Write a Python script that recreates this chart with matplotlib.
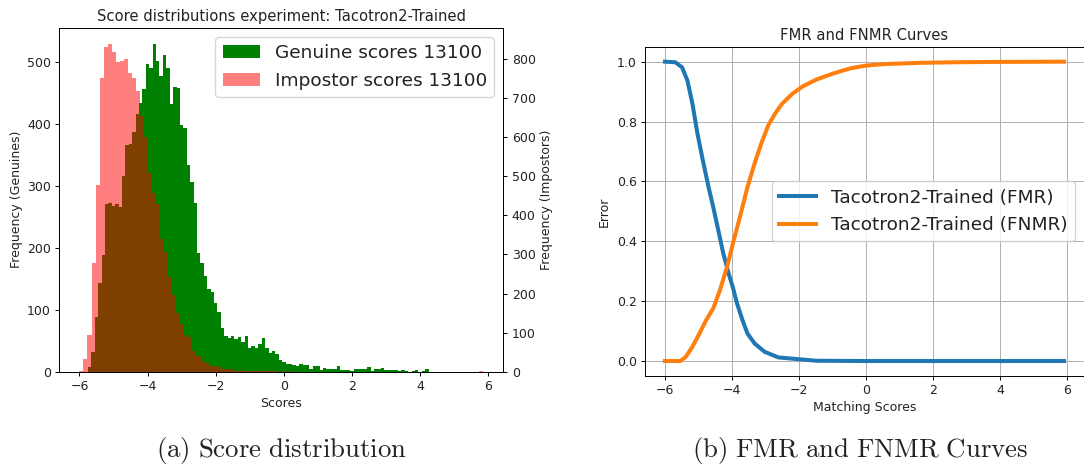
import numpy as np
import matplotlib
matplotlib.use('Agg')
import matplotlib.pyplot as plt

plt.rcParams['mathtext.fontset'] = 'cm'

# ---------------- data ----------------
gen_range = (-5.75, 4.25)
gen_counts = [8, 32, 88, 143, 189, 270, 272, 268, 270, 266,
              316, 366, 368, 387, 416, 434, 457, 497, 490, 529,
              502, 478, 511, 491, 433, 460, 458, 398, 393, 334,
              307, 272, 192, 175, 154, 133, 129, 111, 96, 71,
              57, 55, 58, 52, 56, 48, 57, 38, 42, 39,
              45, 55, 39, 30, 34, 29, 19, 16, 12, 12,
              11, 10, 13, 11, 11, 5, 10, 9, 3, 6,
              5, 4, 5, 9, 3, 2, 3, 1, 5, 4,
              4, 4, 7, 1, 4, 4, 6, 3, 3, 2,
              2, 1, 2, 1, 0, 1, 2, 0, 1, 4]
imp_range = (-6.0, 5.85)
imp_counts = [3, 33, 95, 277, 478, 752, 830, 838, 817, 791,
              795, 801, 765, 750, 718, 655, 601, 508, 457, 429,
              339, 307, 241, 195, 150, 123, 93, 90, 54, 41,
              28, 21, 15, 14, 12, 6, 8, 7, 3, 4,
              3, 2, 3, 2, 1, 2, 1, 1, 2, 0,
              1, 0, 1, 0, 0, 0, 0, 0, 0, 0,
              0, 0, 0, 0, 0, 0, 0, 0, 0, 0,
              0, 0, 0, 0, 0, 0, 0, 0, 0, 0,
              0, 0, 0, 0, 0, 0, 0, 0, 0, 0,
              0, 0, 0, 0, 0, 0, 0, 0, 0, 3]

fmr_thr = [-6.0, -5.69, -5.49, -5.33, -5.18, -5.03, -4.87, -4.70, -4.56, -4.41,
           -4.26, -4.10, -3.98, -3.85, -3.69, -3.54, -3.33, -3.03, -2.62, -2.0,
           -1.49, 0.0, 2.0, 4.0, 5.9]
fmr = [1.0, 0.998, 0.981, 0.937, 0.859, 0.759, 0.67, 0.581, 0.514, 0.437,
       0.359, 0.292, 0.248, 0.192, 0.137, 0.092, 0.059, 0.031, 0.012, 0.006,
       0.001, 0.0, 0.0, 0.0, 0.0]

fnmr_thr = [-6.0, -5.54, -5.38, -5.18, -4.97, -4.77, -4.56, -4.36, -4.15, -3.95,
            -3.74, -3.54, -3.33, -3.13, -2.92, -2.72, -2.51, -2.21, -1.90, -1.49,
            -0.97, -0.46, 0.0, 0.56, 1.59, 2.62, 3.64, 5.9]
fnmr = [0.0, 0.0, 0.014, 0.048, 0.092, 0.137, 0.176, 0.237, 0.314, 0.403,
        0.492, 0.581, 0.659, 0.726, 0.787, 0.826, 0.859, 0.892, 0.917, 0.94,
        0.961, 0.978, 0.987, 0.992, 0.996, 0.998, 0.999, 1.0]

# ---------------- figure ----------------
W, H = 1084, 468
fig = plt.figure(figsize=(W / 100, H / 100), dpi=100)


def pos(x0, y0, x1, y1):
    return [x0 / W, 1 - y1 / H, (x1 - x0) / W, (y1 - y0) / H]


TICK = 9
LAB = 9
TITLE = 10.6
LEG = 13.3
TXT = '#222222'


def style(ax):
    ax.tick_params(labelsize=TICK, length=3, width=0.7, pad=3, labelcolor=TXT)
    for s in ax.spines.values():
        s.set_linewidth(0.7)


# ----- left: histogram -----
ax1 = fig.add_axes(pos(59.2, 27.7, 503.4, 371.7))
edges_g = np.linspace(gen_range[0], gen_range[1], len(gen_counts) + 1)
cent_g = (edges_g[:-1] + edges_g[1:]) / 2
ax1.hist(cent_g, bins=edges_g, weights=gen_counts, color='green',
         label='Genuine scores 13100')
ax2 = ax1.twinx()
edges_i = np.linspace(imp_range[0], imp_range[1], len(imp_counts) + 1)
cent_i = (edges_i[:-1] + edges_i[1:]) / 2
ax2.hist(cent_i, bins=edges_i, weights=imp_counts, color='red', alpha=0.5,
         label='Impostor scores 13100')
style(ax1)
style(ax2)
ax1.set_title('Score distributions experiment: Tacotron2-Trained',
              fontsize=TITLE, pad=5, color=TXT)
ax1.set_xlabel('Scores', fontsize=LAB, labelpad=3, color=TXT)
ax1.set_ylabel('Frequency (Genuines)', fontsize=LAB, labelpad=3, color=TXT)
ax2.set_ylabel('Frequency (Impostors)', fontsize=LAB, labelpad=3, color=TXT)
h1, l1 = ax1.get_legend_handles_labels()
h2, l2 = ax2.get_legend_handles_labels()
leg = ax2.legend(h1 + h2, l1 + l2, loc='upper right', fontsize=LEG)
for t in leg.get_texts():
    t.set_color(TXT)

# ----- right: FMR / FNMR -----
ax3 = fig.add_axes(pos(645, 46.7, 1084, 376))
ax3.plot(fmr_thr, fmr, color='#1f77b4', lw=2.9, label='Tacotron2-Trained (FMR)')
ax3.plot(fnmr_thr, fnmr, color='#ff7f0e', lw=2.9, label='Tacotron2-Trained (FNMR)')
style(ax3)
ax3.grid(True, lw=0.7)
ax3.set_title('FMR and FNMR Curves', fontsize=TITLE, pad=5, color=TXT)
ax3.set_xlabel('Matching Scores', fontsize=LAB, labelpad=3, color=TXT)
ax3.set_ylabel('Error', fontsize=LAB, labelpad=4, color=TXT)
leg3 = ax3.legend(loc='center right', fontsize=LEG)
for t in leg3.get_texts():
    t.set_color(TXT)

# ----- captions -----
fig.text(281 / W, 1 - 451 / H, r'$\mathrm{(a)\ Score\ distribution}$',
         ha='center', va='center', fontsize=19.3, color=TXT)
fig.text(860 / W, 1 - 451 / H, r'$\mathrm{(b)\ FMR\ and\ FNMR\ Curves}$',
         ha='center', va='center', fontsize=19.3, color=TXT)

fig.savefig('out.png', dpi=100)
